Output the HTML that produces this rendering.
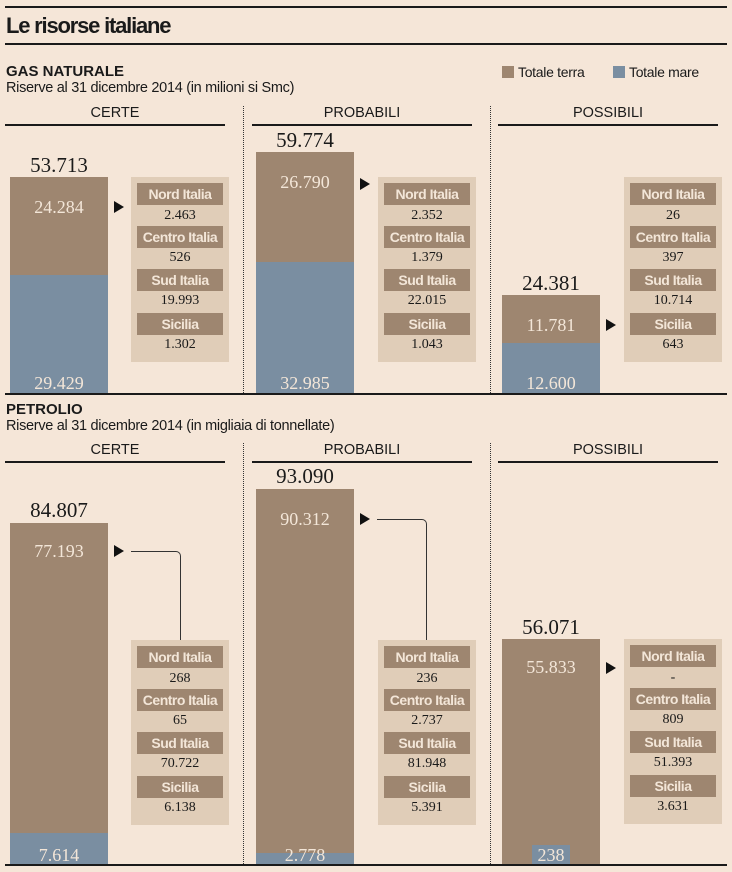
<!DOCTYPE html>
<html><head><meta charset="utf-8"><style>
body{margin:0;width:732px;height:872px;background:#f5e6d8;position:relative;overflow:hidden;font-family:"Liberation Sans",sans-serif;color:#1a1a1a}
div{position:absolute;box-sizing:border-box}
.hl{background:#1a1a1a}
.t{font-weight:bold}
.sub{font-size:14.5px;letter-spacing:-0.3px}
.ch{font-size:14.5px;text-align:center;width:220px}
.br{background:#9e8670}
.bl{background:#7a8ea1}
.num{font-family:"Liberation Serif",serif;text-align:center;width:98px;line-height:20px}
.tot{font-size:21px;color:#1a1a1a}
.in{font-size:18px;color:#f3e6d8}
.pan{background:#e0cdb8;width:98px;height:185px}
.lb{background:#9e8670;color:#f3e6d8;font-weight:bold;font-size:14px;left:6px;width:86px;height:22px;line-height:22px;text-align:center;letter-spacing:-0.5px;white-space:nowrap}
.v{font-family:"Liberation Serif",serif;font-size:14px;width:98px;text-align:center;left:0;line-height:16px}
.ar{width:0;height:0;border-left:10px solid #111;border-top:6px solid transparent;border-bottom:6px solid transparent}
.dot{border-left:1.5px dotted #333;width:0}
.cn{border-top:1.5px solid #333;border-right:1.5px solid #333;border-top-right-radius:5px}
</style></head><body>
<div class="hl" style="left:5px;top:6px;width:722px;height:2px"></div>
<div class="t" style="left:6px;top:13px;font-size:22px;letter-spacing:-1.2px">Le risorse italiane</div>
<div class="hl" style="left:5px;top:43px;width:722px;height:2px"></div>

<div class="t" style="left:6px;top:63px;font-size:15px">GAS NATURALE</div>
<div class="sub" style="left:6px;top:80px">Riserve al 31 dicembre 2014 (in milioni si Smc)</div>
<div class="br" style="left:502px;top:66px;width:12px;height:12px"></div>
<div style="left:518px;top:64px;font-size:14px;letter-spacing:-0.3px">Totale terra</div>
<div class="bl" style="left:613px;top:66px;width:12px;height:12px"></div>
<div style="left:629px;top:64px;font-size:14px;letter-spacing:-0.3px">Totale mare</div>

<div class="ch" style="left:5px;top:105px">CERTE</div>
<div class="ch" style="left:252px;top:105px">PROBABILI</div>
<div class="ch" style="left:498px;top:105px">POSSIBILI</div>
<div class="hl" style="left:5px;top:124px;width:220px;height:1.5px"></div>
<div class="hl" style="left:252px;top:124px;width:220px;height:1.5px"></div>
<div class="hl" style="left:498px;top:124px;width:220px;height:1.5px"></div>
<div class="dot" style="left:243px;top:106px;height:287px"></div>
<div class="dot" style="left:490px;top:106px;height:287px"></div>

<div class="br" style="left:10px;top:177px;width:98px;height:98px"></div>
<div class="bl" style="left:10px;top:275px;width:98px;height:118px"></div>
<div class="num tot" style="left:10px;top:155px">53.713</div>
<div class="num in" style="left:10px;top:197px">24.284</div>
<div class="num in" style="left:10px;top:373px">29.429</div>
<div class="br" style="left:256px;top:152px;width:98px;height:110px"></div>
<div class="bl" style="left:256px;top:262px;width:98px;height:131px"></div>
<div class="num tot" style="left:256px;top:130px">59.774</div>
<div class="num in" style="left:256px;top:172px">26.790</div>
<div class="num in" style="left:256px;top:373px">32.985</div>
<div class="br" style="left:502px;top:295px;width:98px;height:48px"></div>
<div class="bl" style="left:502px;top:343px;width:98px;height:50px"></div>
<div class="num tot" style="left:502px;top:273px">24.381</div>
<div class="num in" style="left:502px;top:315px">11.781</div>
<div class="num in" style="left:502px;top:373px">12.600</div>
<div class="ar" style="left:114px;top:201px"></div>
<div class="ar" style="left:360px;top:178px"></div>
<div class="ar" style="left:606px;top:319px"></div>

<div class="pan" style="left:131px;top:177px">
<div class="lb" style="top:6px">Nord Italia</div><div class="v" style="top:31px">2.463</div>
<div class="lb" style="top:49px">Centro Italia</div><div class="v" style="top:73px">526</div>
<div class="lb" style="top:92px">Sud Italia</div><div class="v" style="top:116px">19.993</div>
<div class="lb" style="top:136px">Sicilia</div><div class="v" style="top:160px">1.302</div></div>
<div class="pan" style="left:378px;top:177px">
<div class="lb" style="top:6px">Nord Italia</div><div class="v" style="top:31px">2.352</div>
<div class="lb" style="top:49px">Centro Italia</div><div class="v" style="top:73px">1.379</div>
<div class="lb" style="top:92px">Sud Italia</div><div class="v" style="top:116px">22.015</div>
<div class="lb" style="top:136px">Sicilia</div><div class="v" style="top:160px">1.043</div></div>
<div class="pan" style="left:624px;top:177px">
<div class="lb" style="top:6px">Nord Italia</div><div class="v" style="top:31px">26</div>
<div class="lb" style="top:49px">Centro Italia</div><div class="v" style="top:73px">397</div>
<div class="lb" style="top:92px">Sud Italia</div><div class="v" style="top:116px">10.714</div>
<div class="lb" style="top:136px">Sicilia</div><div class="v" style="top:160px">643</div></div>
<div class="hl" style="left:5px;top:393px;width:722px;height:2px"></div>

<div class="t" style="left:6px;top:401px;font-size:15px">PETROLIO</div>
<div class="sub" style="left:6px;top:418px">Riserve al 31 dicembre 2014 (in migliaia di tonnellate)</div>
<div class="ch" style="left:5px;top:442px">CERTE</div>
<div class="ch" style="left:252px;top:442px">PROBABILI</div>
<div class="ch" style="left:498px;top:442px">POSSIBILI</div>
<div class="hl" style="left:5px;top:461px;width:220px;height:1.5px"></div>
<div class="hl" style="left:252px;top:461px;width:220px;height:1.5px"></div>
<div class="hl" style="left:498px;top:461px;width:220px;height:1.5px"></div>
<div class="dot" style="left:243px;top:443px;height:421px"></div>
<div class="dot" style="left:490px;top:443px;height:421px"></div>

<div class="br" style="left:10px;top:523px;width:98px;height:310px"></div>
<div class="bl" style="left:10px;top:833px;width:98px;height:31px"></div>
<div class="num tot" style="left:10px;top:500px">84.807</div>
<div class="num in" style="left:10px;top:541px">77.193</div>
<div class="num in" style="left:10px;top:845px">7.614</div>
<div class="br" style="left:256px;top:489px;width:98px;height:364px"></div>
<div class="bl" style="left:256px;top:853px;width:98px;height:11px"></div>
<div class="num tot" style="left:256px;top:466px">93.090</div>
<div class="num in" style="left:256px;top:509px">90.312</div>
<div class="num in" style="left:256px;top:845px">2.778</div>
<div class="br" style="left:502px;top:639px;width:98px;height:225px"></div>
<div class="bl" style="left:532px;top:845px;width:38px;height:19px"></div>
<div class="num tot" style="left:502px;top:617px">56.071</div>
<div class="num in" style="left:502px;top:657px">55.833</div>
<div class="num in" style="left:502px;top:845px">238</div>
<div class="ar" style="left:114px;top:545px"></div>
<div class="ar" style="left:360px;top:513px"></div>
<div class="ar" style="left:606px;top:662px"></div>
<div class="cn" style="left:131px;top:551px;width:50px;height:89px"></div>
<div class="cn" style="left:377px;top:519px;width:50px;height:121px"></div>

<div class="pan" style="left:131px;top:640px">
<div class="lb" style="top:6px">Nord Italia</div><div class="v" style="top:31px">268</div>
<div class="lb" style="top:49px">Centro Italia</div><div class="v" style="top:73px">65</div>
<div class="lb" style="top:92px">Sud Italia</div><div class="v" style="top:116px">70.722</div>
<div class="lb" style="top:136px">Sicilia</div><div class="v" style="top:160px">6.138</div></div>
<div class="pan" style="left:378px;top:640px">
<div class="lb" style="top:6px">Nord Italia</div><div class="v" style="top:31px">236</div>
<div class="lb" style="top:49px">Centro Italia</div><div class="v" style="top:73px">2.737</div>
<div class="lb" style="top:92px">Sud Italia</div><div class="v" style="top:116px">81.948</div>
<div class="lb" style="top:136px">Sicilia</div><div class="v" style="top:160px">5.391</div></div>
<div class="pan" style="left:624px;top:639px">
<div class="lb" style="top:6px">Nord Italia</div><div class="v" style="top:31px">-</div>
<div class="lb" style="top:49px">Centro Italia</div><div class="v" style="top:73px">809</div>
<div class="lb" style="top:92px">Sud Italia</div><div class="v" style="top:116px">51.393</div>
<div class="lb" style="top:136px">Sicilia</div><div class="v" style="top:160px">3.631</div></div>
<div class="hl" style="left:5px;top:864px;width:722px;height:1.5px"></div>
</body></html>
